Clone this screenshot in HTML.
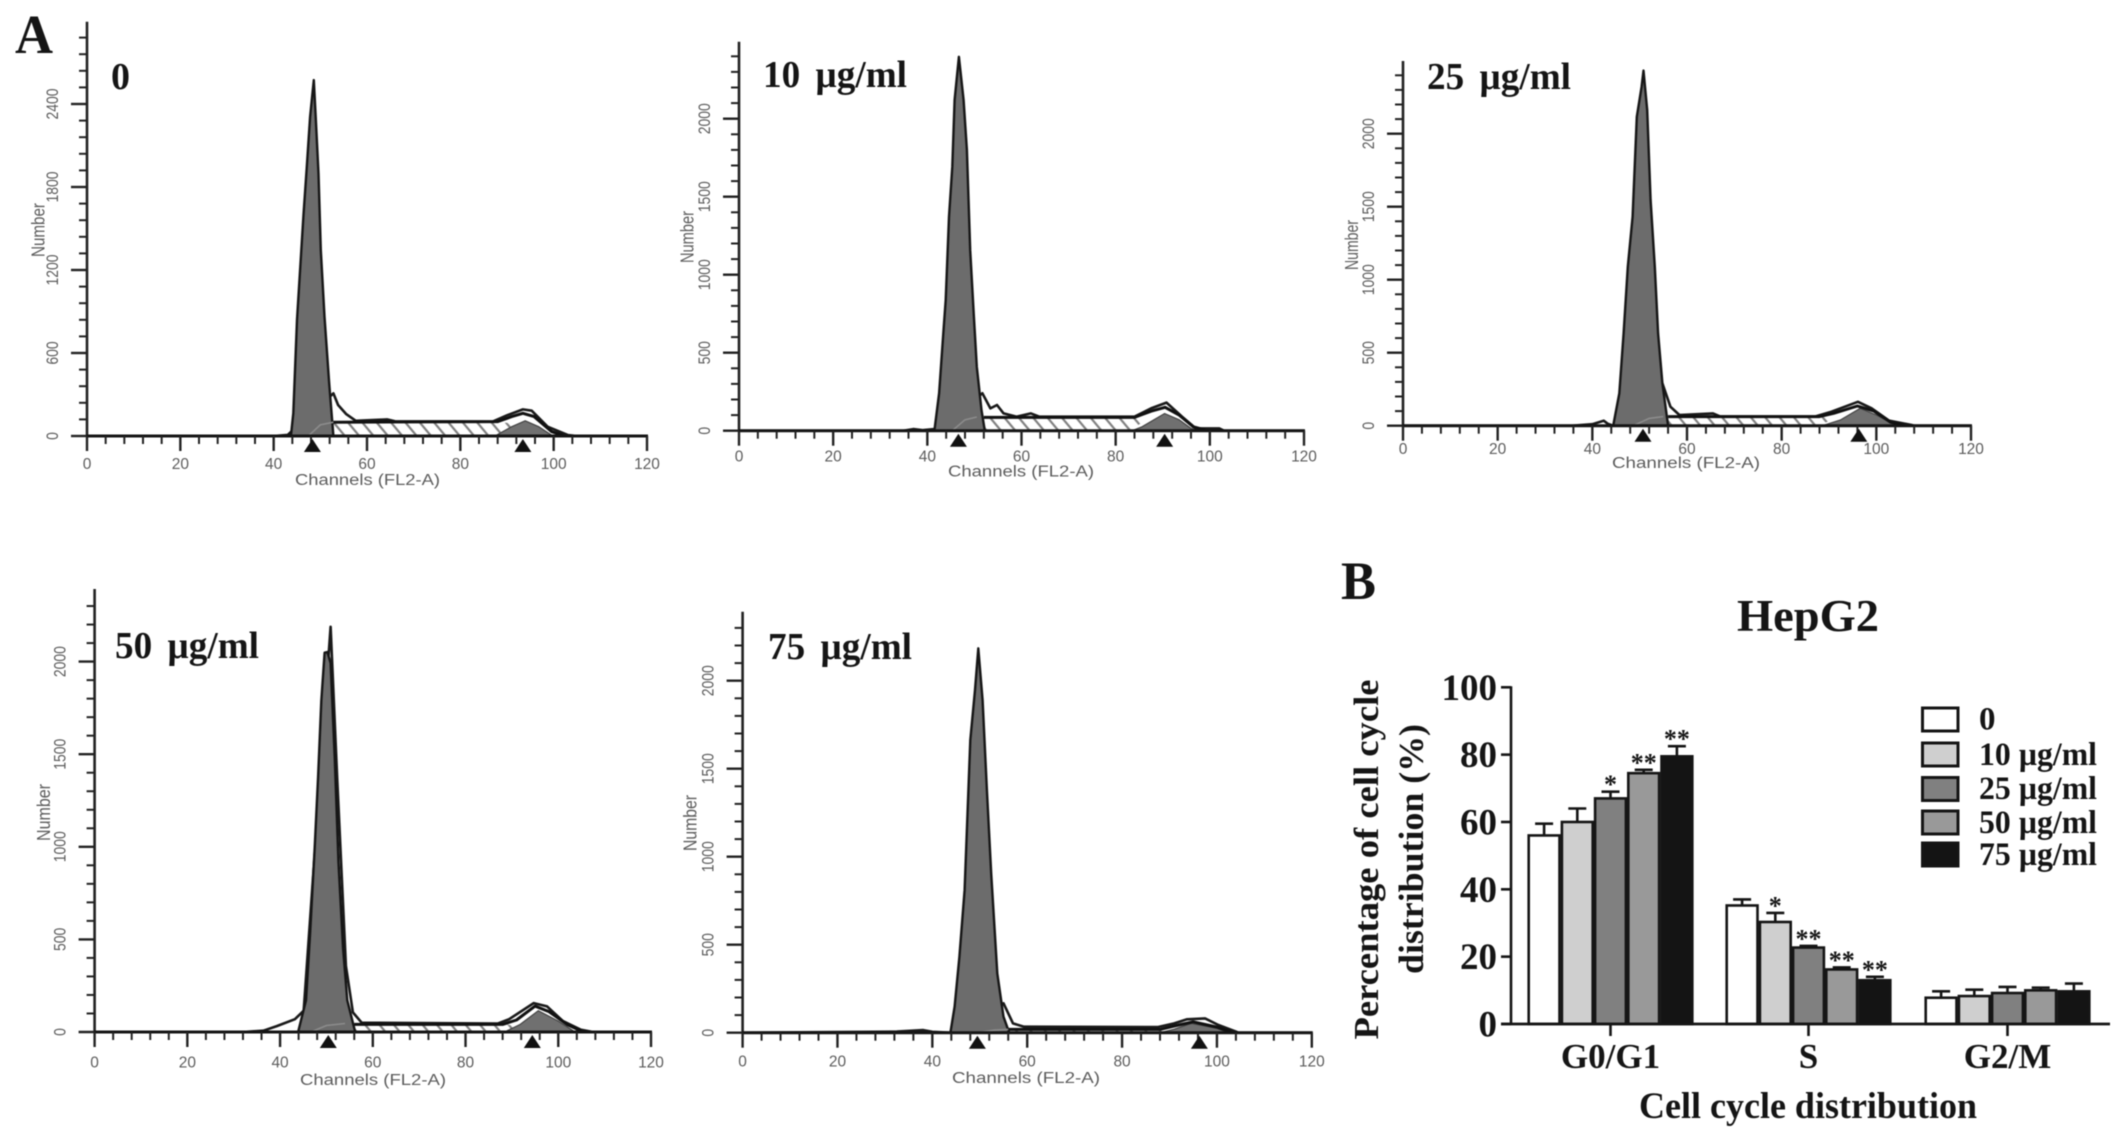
<!DOCTYPE html>
<html lang="en">
<head>
<meta charset="utf-8">
<title>HepG2 cell cycle distribution</title>
<style>
html,body{margin:0;padding:0;background:#fff;width:2126px;height:1141px;overflow:hidden}
svg{display:block;filter:blur(.65px)}
.serif{font-family:"Liberation Serif",serif;font-weight:bold;fill:#151515}
.sans{font-family:"Liberation Sans",sans-serif;fill:#5c5c5c}
.dose{word-spacing:6px}
</style>
</head>
<body>
<svg id="fig" xmlns="http://www.w3.org/2000/svg" width="2126" height="1141" viewBox="0 0 2126 1141">
<defs>
<pattern id="hatch" patternUnits="userSpaceOnUse" width="11" height="11" patternTransform="rotate(50)">
<rect width="11" height="11" fill="#fff"/>
<line x1="0" y1="5" x2="11" y2="5" stroke="#808080" stroke-width="2.2"/>
</pattern>
</defs>

<text class="serif" x="15" y="53" font-size="55" textLength="38" lengthAdjust="spacingAndGlyphs">A</text>
<text class="serif" x="1341" y="599" font-size="54" textLength="35" lengthAdjust="spacingAndGlyphs">B</text>

<g id="panel-0">
<text class="serif" x="111" y="89" font-size="38">0</text>
<text class="sans" x="295" y="485" font-size="15.5" textLength="145" lengthAdjust="spacingAndGlyphs">Channels (FL2-A)</text>
<text class="sans" transform="translate(44.6 257) rotate(-90)" font-size="18" textLength="54" lengthAdjust="spacingAndGlyphs">Number</text>
</g>
<g id="panel-10">
<text class="serif dose" x="763" y="87" font-size="38" textLength="144" lengthAdjust="spacingAndGlyphs">10 µg/ml</text>
<text class="sans" x="948" y="476.7" font-size="15.5" textLength="146" lengthAdjust="spacingAndGlyphs">Channels (FL2-A)</text>
<text class="sans" transform="translate(693.5 263) rotate(-90)" font-size="18" textLength="52" lengthAdjust="spacingAndGlyphs">Number</text>
</g>
<g id="panel-25">
<text class="serif dose" x="1427" y="89" font-size="38" textLength="144" lengthAdjust="spacingAndGlyphs">25 µg/ml</text>
<text class="sans" x="1612" y="468" font-size="15.5" textLength="148" lengthAdjust="spacingAndGlyphs">Channels (FL2-A)</text>
<text class="sans" transform="translate(1358 270) rotate(-90)" font-size="18" textLength="50" lengthAdjust="spacingAndGlyphs">Number</text>
</g>
<g id="panel-50">
<text class="serif dose" x="115" y="658" font-size="38" textLength="144" lengthAdjust="spacingAndGlyphs">50 µg/ml</text>
<text class="sans" x="300" y="1085" font-size="15.5" textLength="146" lengthAdjust="spacingAndGlyphs">Channels (FL2-A)</text>
<text class="sans" transform="translate(50 841) rotate(-90)" font-size="18" textLength="57" lengthAdjust="spacingAndGlyphs">Number</text>
</g>
<g id="panel-75">
<text class="serif dose" x="768" y="659" font-size="38" textLength="144" lengthAdjust="spacingAndGlyphs">75 µg/ml</text>
<text class="sans" x="952" y="1083" font-size="15.5" textLength="148" lengthAdjust="spacingAndGlyphs">Channels (FL2-A)</text>
<text class="sans" transform="translate(696.6 851) rotate(-90)" font-size="18" textLength="56" lengthAdjust="spacingAndGlyphs">Number</text>
</g>

<g id="bar-chart">
<text class="serif" x="1737" y="631" font-size="45" textLength="142" lengthAdjust="spacingAndGlyphs">HepG2</text>
<text class="serif" transform="translate(1378 1039.5) rotate(-90)" font-size="35" textLength="360" lengthAdjust="spacingAndGlyphs">Percentage of cell cycle</text>
<text class="serif" transform="translate(1423 974) rotate(-90)" font-size="35" textLength="250" lengthAdjust="spacingAndGlyphs">distribution (%)</text>
<text class="serif" x="1639" y="1118" font-size="37" textLength="338" lengthAdjust="spacingAndGlyphs">Cell cycle distribution</text>
<g>
<rect x="1922.5" y="708" width="35.5" height="23" fill="#fff" stroke="#151515" stroke-width="3"/>
<text class="serif" x="1979" y="729.5" font-size="33">0</text>
<rect x="1922.5" y="743" width="35.5" height="23" fill="#cfcfcf" stroke="#151515" stroke-width="3"/>
<text class="serif" x="1979" y="765" font-size="33" textLength="118" lengthAdjust="spacingAndGlyphs">10 µg/ml</text>
<rect x="1922.5" y="777.5" width="35.5" height="23" fill="#808080" stroke="#151515" stroke-width="3"/>
<text class="serif" x="1979" y="799" font-size="33" textLength="118" lengthAdjust="spacingAndGlyphs">25 µg/ml</text>
<rect x="1922.5" y="811" width="35.5" height="23" fill="#999" stroke="#151515" stroke-width="3"/>
<text class="serif" x="1979" y="833" font-size="33" textLength="118" lengthAdjust="spacingAndGlyphs">50 µg/ml</text>
<rect x="1922.5" y="843" width="35.5" height="23" fill="#141414" stroke="#151515" stroke-width="3"/>
<text class="serif" x="1979" y="865" font-size="33" textLength="118" lengthAdjust="spacingAndGlyphs">75 µg/ml</text>
</g>
</g>
</svg>

<script>
// ---- Flow-cytometry histogram readings (channel, count) ----
const g1Ch0 = [43.7,44.2,45,46.4,47.1,47.8,48.6,49,49.6,50.1,50.9,51.9,52.8];
const g1Count0 = [0,164,840,1600,1947,2308,2573,2308,1899,1345,863,380,0];
const outCh0 = [0,40,43,43.7,52.8,53.8,55.5,57.6,64.3,66,87,90,93.4,95.3,98.7,103,105,120];
const outCount0 = [0,0,8,30,308,224,160,110,120,106,105,150,192,183,67,7,0,0];
const fitCh0 = [52.8,88,91,93.4,95.8,99.6,102];
const fitCount0 = [100,104,140,164,140,31,5];
const sCh0 = [47.6,50,52.8,90,91.5,88];
const sCount0 = [5,80,100,96,70,0];
const g2Ch0 = [87.7,91,93.9,96.8,99.6,101];
const g2Count0 = [5,67,110,67,5,0];
const marks0 = [48.3,93.4];

const g1Ch10 = [41.5,42.5,43.4,43.9,44.6,45.3,45.8,46.7,47.7,48.4,49.1,49.9,50.5,51.5,52.2];
const g1Count10 = [0,240,624,838,1372,1692,2120,2397,2120,1800,1158,731,410,132,0];
const outCh10 = [0,35,37,39,41.5,51.7,53.4,54.8,56.2,59,62,63.8,84,87.5,90.8,94.1,97,102,103,120];
const outCount10 = [0,0,10,3,10,240,143,165,111,90,111,90,90,143,180,90,15,15,0,0];
const fitCh10 = [52,84,87.5,90.5,93.5,96.5,99];
const fitCount10 = [85,85,125,150,100,25,5];
const sCh10 = [45.5,48,50.5,84,86,83];
const sCount10 = [5,70,88,82,60,0];
const g2Ch10 = [83.5,85.6,90.4,93.5,96,98];
const g2Count10 = [0,25,110,70,15,0];
const marks10 = [46.6,90.4];

const g1Ch25 = [44.4,45.7,46.6,47.5,48.5,49.4,50.4,50.8,51.6,52.3,53.2,53.9,54.8,56];
const g1Count25 = [0,221,632,1089,1431,2116,2322,2432,2162,1546,1089,632,290,0];
const outCh25 = [0,35.8,40,42.4,43.3,44.4,54.8,56.5,58.4,65.5,67,87,90.5,96.1,99,102.7,107.5,108,120];
const outCount25 = [0,0,10,34,12,0,290,130,73,84,64,62,96,164,119,34,5,0,0];
const fitCh25 = [56,88,91,96,99.5,103,106];
const fitCount25 = [62,62,85,135,100,25,3];
const sCh25 = [49,52,55,89,91,87];
const sCount25 = [5,50,62,60,40,0];
const g2Ch25 = [88.6,92.4,96.6,100,103.7,105];
const g2Count25 = [0,39,119,73,11,0];
const marks25 = [50.7,96.3];

const g1Ch50 = [43.9,45.6,46.5,47.5,48.2,48.9,49.6,50.2,50.9,51.8,52.6,53.6,54.5,56.2];
const g1Count50 = [0,171,543,1007,1379,1788,2048,2052,1993,1472,914,450,171,0];
const outCh50 = [0,32,36.4,39.3,43.2,45.1,50.9,52.3,54.2,55.7,57.6,87,89.4,94.7,97.6,101,104.8,107.5,120];
const outCount50 = [0,0,7,32,69,115,2188,1379,357,106,50,46,69,156,138,59,13,0,0];
const fitCh50 = [56,88,91,95,98,102,105];
const fitCount50 = [41,41,65,140,110,40,5];
const sCh50 = [47,50,54,89,91.5,88];
const sCount50 = [3,35,46,40,30,0];
const g2Ch50 = [88.4,91.8,95.7,100,103.4,105];
const g2Count50 = [0,41,115,59,4,0];
const marks50 = [50.4,94.4];

const g1Ch75 = [43.8,44.7,45.7,46.8,48,49,49.7,50.6,51.5,52.4,53.7,55,56.2];
const g1Count75 = [0,148,432,810,1663,1947,2184,1890,1379,905,337,91,0];
const outCh75 = [0,32.5,38.1,40,43.8,55,57,59.3,87.5,91,93.7,97.5,100.3,104,104.5,120];
const outCount75 = [0,6,15,5,0,167,53,34,32,53,76,81,44,6,0,0];
const fitCh75 = [56,88,91,95,100,103];
const fitCount75 = [19,19,38,62,32,4];
const sCh75 = [50,53,56,88,91,88];
const sCount75 = [2,14,19,19,12,0];
const g2Ch75 = [88,91,94.6,100,102,103];
const g2Count75 = [0,20,53,25,3,0];
const marks75 = [49.5,96.3];

const xTickLabels = [0,20,40,60,80,100,120];
const yTickLabels0 = [0,600,1200,1800,2400];
const yTickLabels = [0,500,1000,1500,2000];

// ---- Bar chart readings ----
const phases = ['G0/G1','S','G2/M'];
const barTicks = [0,20,40,60,80,100];
const mean0 = [56,35.2,7.8];
const mean10 = [60,30.3,8.3];
const mean25 = [67,22.7,9.2];
const mean50 = [74.5,16.2,10];
const mean75 = [79.5,13,9.7];
const err0 = [3.5,1.8,1.9];
const err10 = [4,2.7,1.9];
const err25 = [2,0.5,1.8];
const err50 = [1,0.6,0.8];
const err75 = [3,1,2.3];
const star0 = ['','',''];
const star10 = ['','*',''];
const star25 = ['*','**',''];
const star50 = ['**','**',''];
const star75 = ['**','**',''];

// ---- Layout (separate from the data) ----
const NS = 'http://www.w3.org/2000/svg';
function mk(tag, attrs, parent, txt){
  const e = document.createElementNS(NS, tag);
  for (const k in attrs) e.setAttribute(k, attrs[k]);
  if (txt !== undefined) e.textContent = txt;
  parent.appendChild(e);
  return e;
}
function pts(chs, cnts, X, Y){
  return chs.map((c,i)=>X(c).toFixed(1)+','+Y(cnts[i]).toFixed(1)).join(' ');
}
const panels = [
 {id:'panel-0',ax:87,ex:647,base:436,pxPer:83/600,top:21.7,maxT:2880,minor:120,major:600,labels:yTickLabels0,tickDy:33,g1:[g1Ch0,g1Count0],out:[outCh0,outCount0],fit:[fitCh0,fitCount0],s:[sCh0,sCount0],g2:[g2Ch0,g2Count0],marks:marks0},
 {id:'panel-10',ax:739,ex:1304,base:430.7,pxPer:78/500,top:41.7,maxT:2400,minor:100,major:500,labels:yTickLabels,tickDy:31,g1:[g1Ch10,g1Count10],out:[outCh10,outCount10],fit:[fitCh10,fitCount10],s:[sCh10,sCount10],g2:[g2Ch10,g2Count10],marks:marks10},
 {id:'panel-25',ax:1403,ex:1971,base:425.7,pxPer:73/500,top:61,maxT:2400,minor:100,major:500,labels:yTickLabels,tickDy:28.3,g1:[g1Ch25,g1Count25],out:[outCh25,outCount25],fit:[fitCh25,fitCount25],s:[sCh25,sCount25],g2:[g2Ch25,g2Count25],marks:marks25},
 {id:'panel-50',ax:94.6,ex:651,base:1032,pxPer:92.6/500,top:589,maxT:2300,minor:100,major:500,labels:yTickLabels,tickDy:35.6,g1:[g1Ch50,g1Count50],out:[outCh50,outCount50],fit:[fitCh50,fitCount50],s:[sCh50,sCount50],g2:[g2Ch50,g2Count50],marks:marks50},
 {id:'panel-75',ax:742.6,ex:1311.8,base:1032.7,pxPer:88/500,top:611.7,maxT:2300,minor:100,major:500,labels:yTickLabels,tickDy:34,g1:[g1Ch75,g1Count75],out:[outCh75,outCount75],fit:[fitCh75,fitCount75],s:[sCh75,sCount75],g2:[g2Ch75,g2Count75],marks:marks75}
];

panels.forEach(function(p){
  const g = document.getElementById(p.id);
  const X = c => p.ax + (p.ex-p.ax)*c/120;
  const Y = v => p.base - v*p.pxPer;
  const stroke = '#222';

  // S-phase hatched area
  const sArea = mk('polygon',{points:pts(p.s[0],p.s[1],X,Y)+' '+X(p.s[0][0]).toFixed(1)+','+Y(0).toFixed(1),fill:'url(#hatch)',stroke:'none'},g);
  
  

  // G2 filled peak
  const g2 = mk('polygon',{points:pts(p.g2[0],p.g2[1],X,Y),fill:'#707070',stroke:'#444','stroke-width':1.2},g);
  
  

  // raw histogram outline (G1 fill is painted over its rising part)
  const out = mk('polyline',{points:pts(p.out[0],p.out[1],X,Y),fill:'none',stroke:'#1a1a1a','stroke-width':2.6,'stroke-linejoin':'round'},g);
  
  

  // fitted sum line
  const fit = mk('polyline',{points:pts(p.fit[0],p.fit[1],X,Y),fill:'none',stroke:'#111','stroke-width':3,'stroke-linejoin':'round'},g);
  
  

  // G1 filled peak
  const g1 = mk('polygon',{points:pts(p.g1[0],p.g1[1],X,Y),fill:'#6c6c6c',stroke:'#161616','stroke-width':2.4,'stroke-linejoin':'round'},g);
  
  

  // S-phase rise drawn through G1 fill
  const arc = mk('polyline',{points:pts(p.s[0].slice(0,3),p.s[1].slice(0,3),X,Y),fill:'none',stroke:'#8c8c8c','stroke-width':1.6},g);
  
  

  // axes
  const yAxis = mk('line',{x1:p.ax,x2:p.ax,y1:p.top,y2:p.base,stroke:stroke,'stroke-width':2.6},g);
  
  
  const xAxis = mk('line',{x1:p.ax-1,x2:p.ex+1,y1:p.base,y2:p.base,stroke:'#141414','stroke-width':3},g);
  
  

  for (let c=0;c<=120;c+=4){
    const len = c%20===0 ? 15 : 8;
    const t = mk('line',{x1:X(c),x2:X(c),y1:p.base,y2:p.base+len,stroke:stroke,'stroke-width':c%20===0?2.4:2},g);
    
    
  }
  for (let v=0;v<=p.maxT;v+=p.minor){
    const len = v%p.major===0 ? 16 : 8;
    const t = mk('line',{x1:p.ax-len,x2:p.ax,y1:Y(v),y2:Y(v),stroke:stroke,'stroke-width':v%p.major===0?2.4:2},g);
    
    
  }
  xTickLabels.forEach(function(l){
    const t = mk('text',{x:X(l),y:p.base+p.tickDy,'text-anchor':'middle','font-size':15.5,class:'sans'},g,String(l));
    
    
  });
  p.labels.forEach(function(l){
    const t = mk('text',{transform:'translate('+(p.ax-29)+' '+Y(l)+') rotate(-90) scale(.82 1)','text-anchor':'middle','font-size':17,class:'sans'},g,String(l));
    
    
  });
  p.marks.forEach(function(m){
    const cx = X(m), by = p.base;
    const t = mk('polygon',{points:cx+','+(by+3)+' '+(cx+8.5)+','+(by+16)+' '+(cx-8.5)+','+(by+16),fill:'#111'},g);
    
    
  });
});

// ---- Bar chart ----
(function(){
  const g = document.getElementById('bar-chart');
  const Y = v => 1024 - v*3.367;
  const groupStart = [1527.5,1725.5,1924.5];
  const bw = 33.2;
  const series = [
    {m:mean0,e:err0,s:star0,c:'#fff'},
    {m:mean10,e:err10,s:star10,c:'#cfcfcf'},
    {m:mean25,e:err25,s:star25,c:'#808080'},
    {m:mean50,e:err50,s:star50,c:'#999'},
    {m:mean75,e:err75,s:star75,c:'#141414'}
  ];
  phases.forEach(function(ph,pi){
    series.forEach(function(se,si){
      const x = groupStart[pi]+si*bw, cx = x+bw/2;
      const top = Y(se.m[pi]+se.e[pi]);
      const v = mk('line',{x1:cx,x2:cx,y1:Y(se.m[pi]),y2:top,stroke:'#151515','stroke-width':2.6},g);
      
      
      const cap = mk('line',{x1:cx-9,x2:cx+9,y1:top,y2:top,stroke:'#151515','stroke-width':2.6},g);
      
      
      const r = mk('rect',{x:x+1.2,y:Y(se.m[pi]),width:bw-2.4,height:Y(0)-Y(se.m[pi]),fill:se.c,stroke:'#151515','stroke-width':2.6},g);
      
      
      if (se.s[pi]){
        const st = mk('text',{x:cx,y:top+1.5,'text-anchor':'middle','font-size':26,class:'serif'},g,se.s[pi]);
        
        
      }
    });
    const cx = groupStart[pi]+bw*2.5;
    const tk = mk('line',{x1:cx,x2:cx,y1:1024,y2:1036,stroke:'#151515','stroke-width':2.6},g);
    
    
    const lb = mk('text',{x:cx,y:1068,'text-anchor':'middle','font-size':35,class:'serif'},g,ph);
    
    
  });
  const ya = mk('line',{x1:1511,x2:1511,y1:Y(100)-1,y2:1024,stroke:'#151515','stroke-width':2.6},g);
  
  
  const xa = mk('line',{x1:1501,x2:2110,y1:1024,y2:1024,stroke:'#151515','stroke-width':2.8},g);
  
  
  barTicks.forEach(function(v){
    const t = mk('line',{x1:1501,x2:1511,y1:Y(v),y2:Y(v),stroke:'#151515','stroke-width':2.6},g);
    
    
    const l = mk('text',{x:1497,y:Y(v)+12.5,'text-anchor':'end','font-size':37,class:'serif'},g,String(v));
    
    
  });
})();
</script>
</body>
</html>
